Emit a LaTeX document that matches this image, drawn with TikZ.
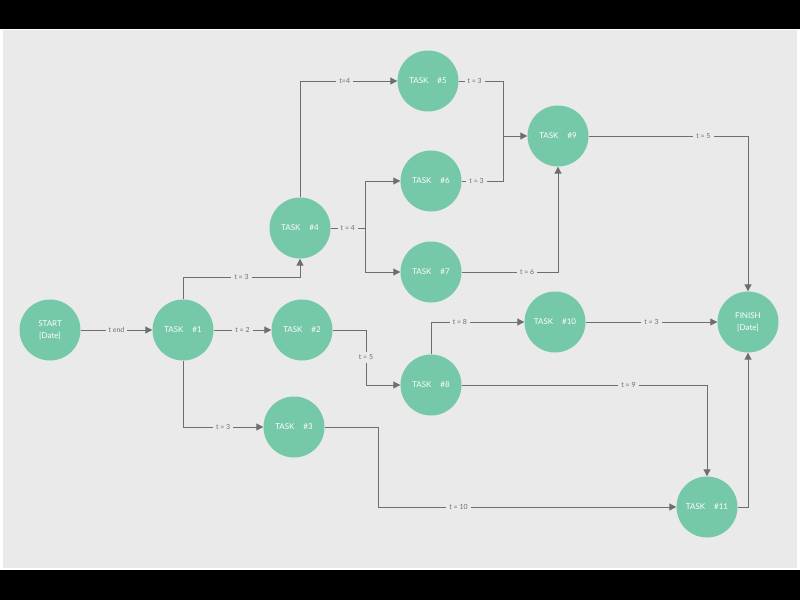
\documentclass[tikz,border=0pt]{standalone}
\usepackage{fontspec}
\setmainfont{Lato}
\usetikzlibrary{arrows.meta}
\definecolor{bg}{HTML}{EAEAEA}
\definecolor{nodegreen}{HTML}{75C8A8}
\definecolor{linegray}{HTML}{6E6E6E}
\definecolor{lblgray}{HTML}{6E6E6E}
\tikzset{
  task/.style={circle, fill=nodegreen, minimum size=61pt, inner sep=0pt, text=white, font=\fontsize{8}{12.5}\selectfont, align=center},
  wire/.style={draw=linegray, line width=1pt},
  conn/.style={wire, -{Triangle[length=7pt,width=7pt]}},
  lbl/.style={fill=bg, inner sep=3pt, text=lblgray, font=\fontsize{7}{8}\selectfont}
}
\newcommand{\tk}[1]{TASK\hspace{9pt}\##1}
\begin{document}
\begin{tikzpicture}[x=1pt,y=-1pt]
\useasboundingbox (0,0) rectangle (800,600);
\fill[white] (0,0) rectangle (800,600);
\fill[black] (0,0) rectangle (800,29);
\fill[black] (0,570) rectangle (800,600);
\fill[bg] (3,30) rectangle (797,568);

\node[task] (start) at (50,330) {START\\{}[Date]};
\node[task] (t1) at (183,330) {\tk{1}};
\node[task] (t2) at (302,330) {\tk{2}};
\node[task] (t3) at (294,427) {\tk{3}};
\node[task] (t4) at (300,228) {\tk{4}};
\node[task] (t5) at (428,81) {\tk{5}};
\node[task] (t6) at (431,181) {\tk{6}};
\node[task] (t7) at (431,272) {\tk{7}};
\node[task] (t8) at (431,385) {\tk{8}};
\node[task] (t9) at (558,136) {\tk{9}};
\node[task] (t10) at (555,322) {\tk{10}};
\node[task] (t11) at (707,507) {\tk{11}};
\node[task] (finish) at (748,322) {FINISH\\{}[Date]};

\coordinate (j4) at (365,228);
\coordinate (j9) at (503,136);
\coordinate (k2) at (366,385);
\coordinate (k3) at (378,507);

\draw[conn] (start) -- node[lbl]{t end} (t1);
\draw[conn] (t1.north) -- ++(0,-22) -| node[lbl,pos=0.25]{t = 3} (t4.south);
\draw[conn] (t4.north) |- node[lbl,pos=0.73]{t=4} (t5.west);
\draw[wire] (t4.east) -- node[lbl]{t = 4} (j4);
\draw[conn] (j4) |- (t6.west);
\draw[conn] (j4) |- (t7.west);
\draw[conn] (t5.east) -| node[lbl,pos=0.18]{t = 3} (j9) -- (t9.west);
\draw[wire] (t6.east) -| node[lbl,pos=0.18]{t = 3} (j9);
\draw[conn] (t7.east) -| node[lbl,pos=0.34]{t = 6} (t9.south);
\draw[conn] (t9.east) -| node[lbl,pos=0.36]{t = 5} (finish.north);
\draw[conn] (t1) -- node[lbl]{t = 2} (t2);
\draw[conn] (t1.south) |- node[lbl,pos=0.75]{t = 3} (t3.west);
\draw[conn] (t2.east) -| node[lbl,pos=0.75]{t = 5} (k2) -- (t8.west);
\draw[conn] (t8.north) |- node[lbl,pos=0.655]{t = 8} (t10.west);
\draw[conn] (t10) -- node[lbl]{t = 3} (finish);
\draw[conn] (t8.east) -| node[lbl,pos=0.34]{t = 9} (t11.north);
\draw[conn] (t3.east) -| (k3) -- node[lbl,pos=0.27]{t = 10} (t11.west);
\draw[conn] (t11.east) -| (finish.south);
\end{tikzpicture}
\end{document}
